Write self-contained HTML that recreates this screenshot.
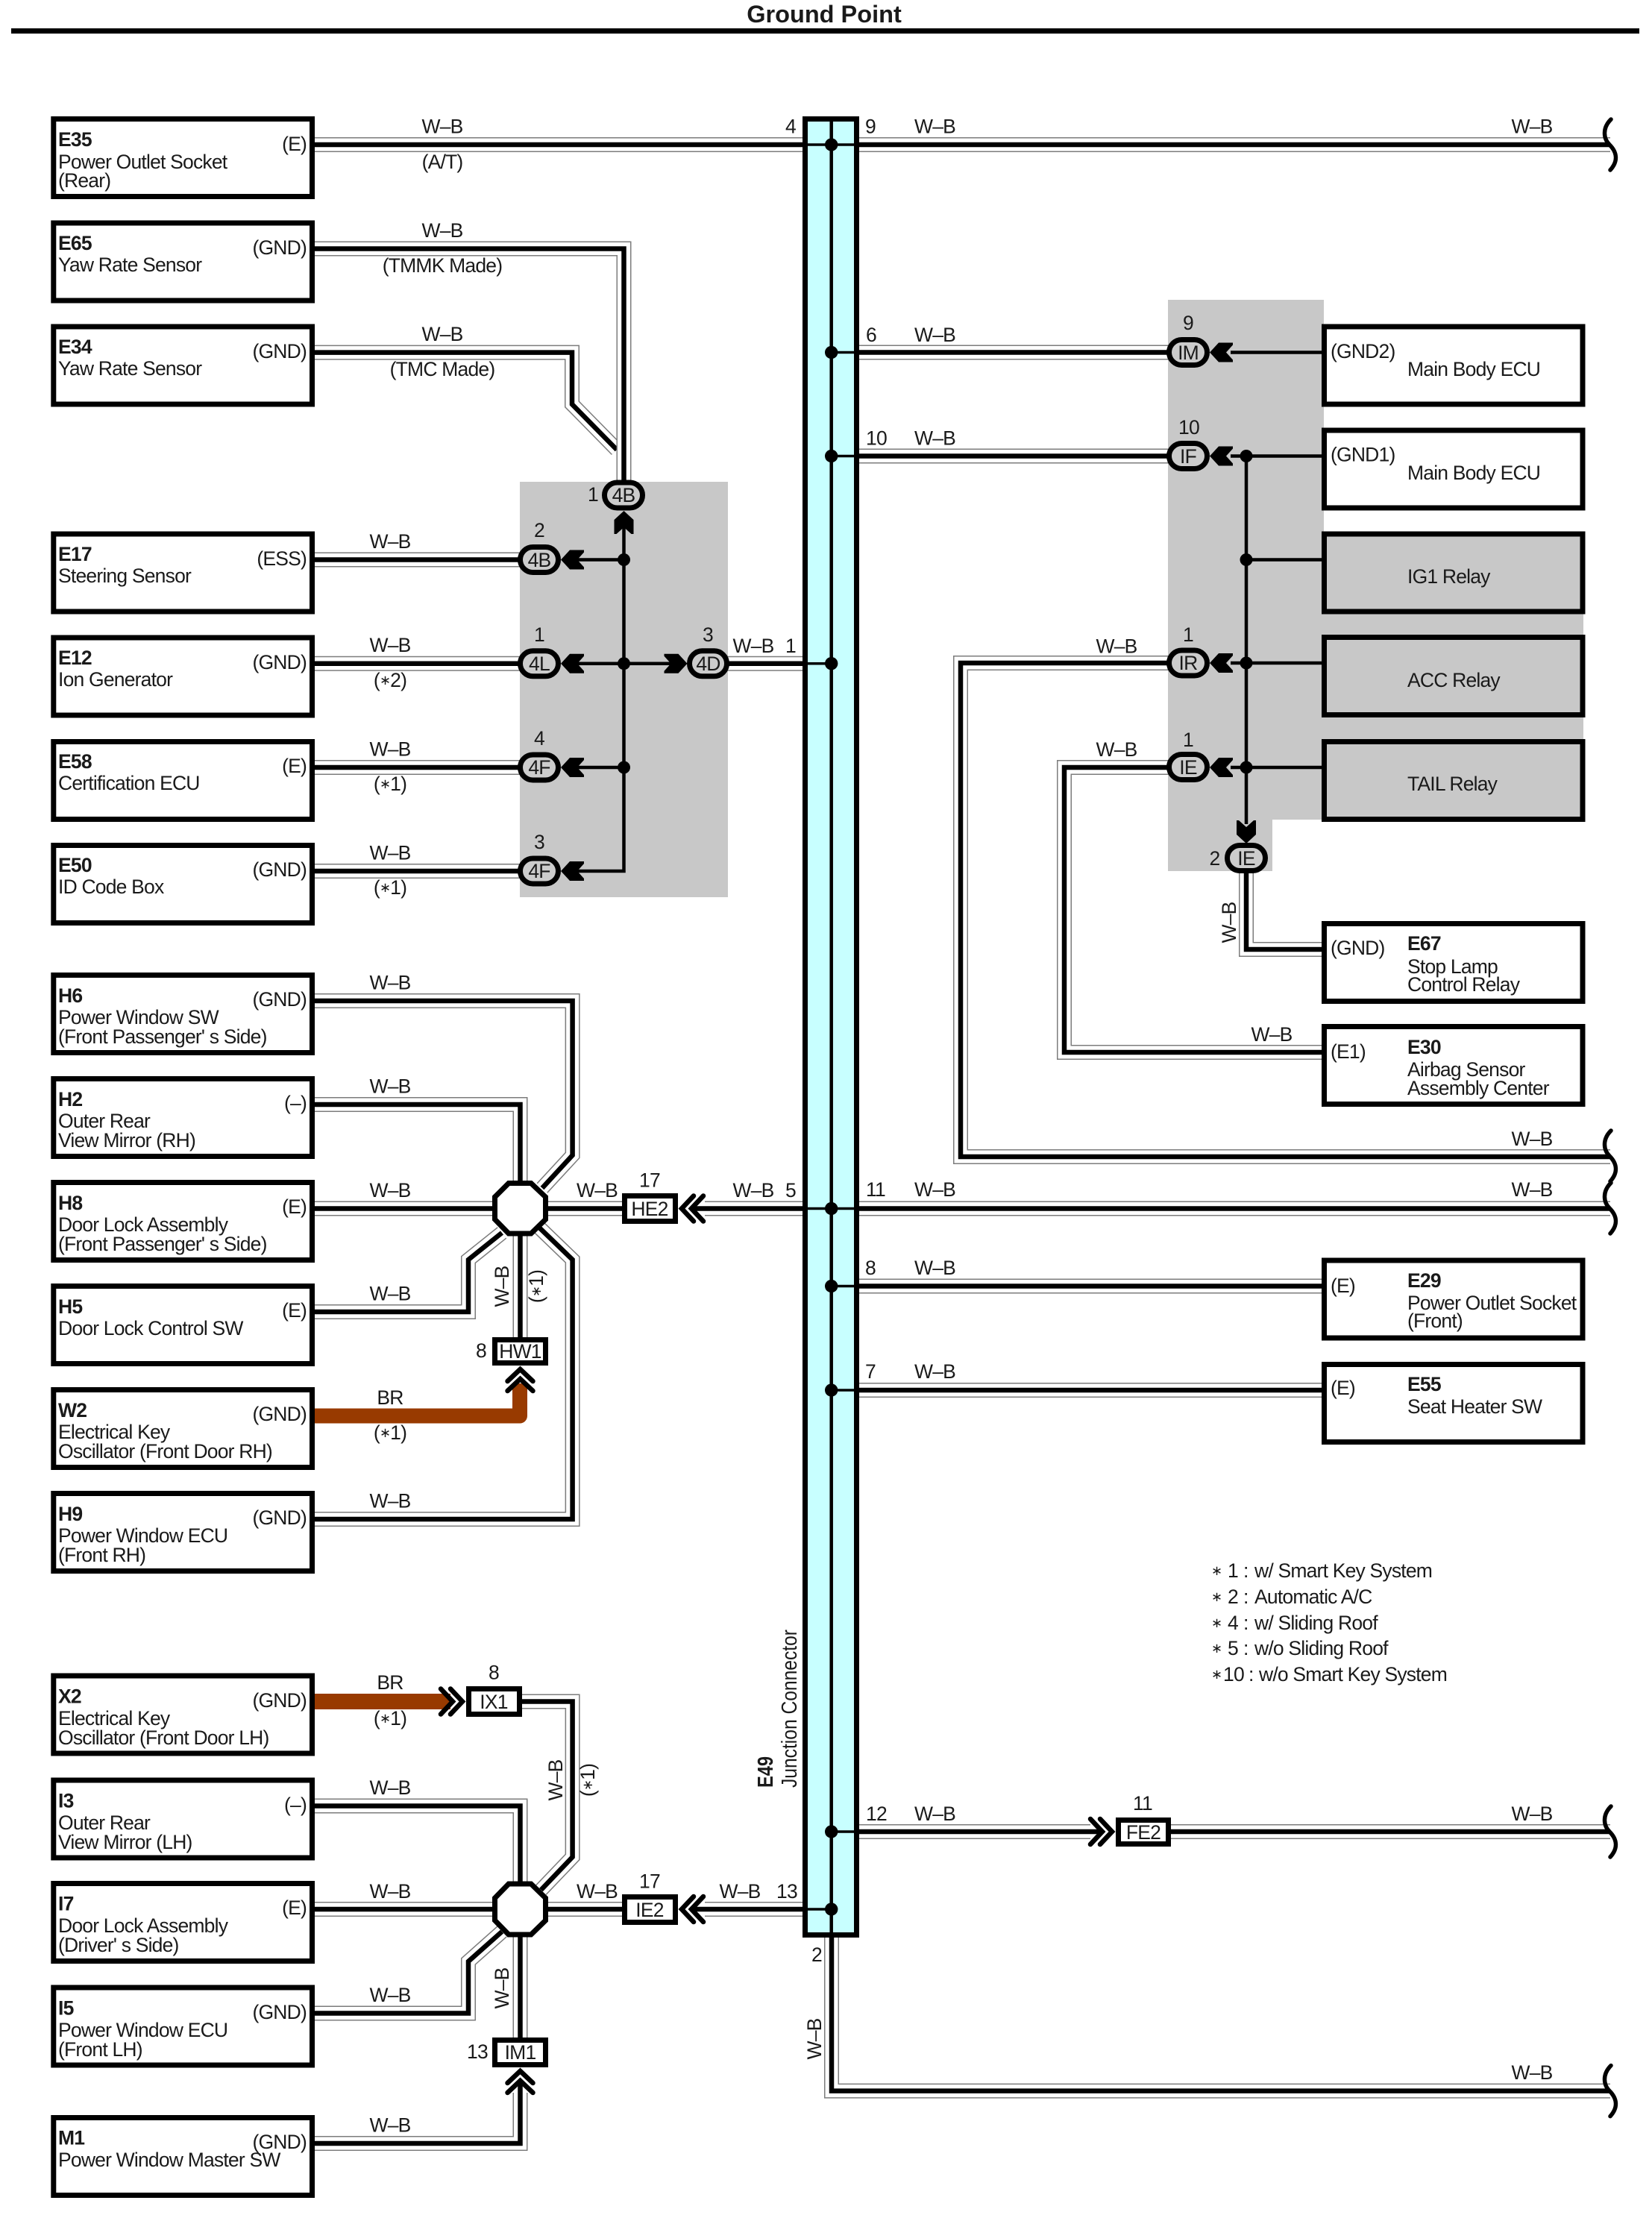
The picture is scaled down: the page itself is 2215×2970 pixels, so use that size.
<!DOCTYPE html>
<html><head><meta charset="utf-8"><title>Ground Point</title>
<style>
html,body{margin:0;padding:0;background:#fff}
svg{display:block}
text{font-family:"Liberation Sans","DejaVu Sans",sans-serif;font-size:26.5px;letter-spacing:-.8px;fill:#1a1a1a}
.bd{font-weight:bold}
.e{text-anchor:end}
.m{text-anchor:middle}
.s{font-size:18px}
.wg path,.wg use{fill:none;stroke:#7c7c7c;stroke-width:20;stroke-linejoin:miter}
.ww path,.ww use{fill:none;stroke:#fff;stroke-width:17;stroke-linejoin:miter}
.wb path,.wb use{fill:none;stroke:#000;stroke-width:6.5;stroke-linejoin:miter}
.t path{fill:none;stroke:#000;stroke-width:4.5}
.bx rect{fill:#fff;stroke:#000;stroke-width:7}
.rl rect{fill:#c8c8c8;stroke:#000;stroke-width:7}
.pl rect{fill:#ccc;stroke:#000;stroke-width:7}
.ch{fill:none;stroke:#000;stroke-width:6.5;stroke-linecap:round}
.br{fill:none;stroke:#000;stroke-width:5.5;stroke-linecap:round}
</style></head>
<body>
<svg xmlns="http://www.w3.org/2000/svg" width="2215" height="2970" viewBox="0 0 2215 2970">
<defs>
<path id="ar" d="M0 0L12-13H31V-10L22 0L31 10V13H12Z"/>
<path id="dc" d="M21-17L5 0L21 17M34-17L18 0L34 17"/>
<path id="brk" d="M2160-34C2148-22 2150-8 2158 0C2168 10 2170 22 2159 34"/>
<path id="w1" d="M421 472.6H767V542L827 603"/>
<path id="w2" d="M421 333.5H836.5V650"/>
<path id="w3" d="M421 194H2159M421 750.5H700M421 889.7H700M421 1029H700M421 1168H700M975 889.7H1077M1152 472.5H1570M1152 611.5H1570M1570 889H1288V1551H2159M1570 1029H1427V1411H1775M1671 1165V1273H1775M1152 1620.5H2159M945 1620.5H1077M421 1620.5H665M1152 1724.5H1775M1152 1864H1775M421 1342H767.6V1549L727 1593M421 1481H697.5V1590M421 1759H628V1689L673 1653M421 2037H767.6V1689L723 1646M697.5 1655V1795M700 2281.5H767.6V2490L725.5 2534M421 2421.5H697.5V2530M421 2560H665M735 2560H834M945 2560H1077M421 2699.5H628V2630L673 2590M697.5 2594V2734M421 2874H697.5V2806M1152 2456H1462M1570 2456H2159M1115 2598V2803.6H2159M735 1620.5H834"/>
</defs>

<!-- title -->
<text class="bd m" x="1105" y="30" style="font-size:32.5px;letter-spacing:0">Ground Point</text>
<rect x="15" y="38" width="2183" height="7" fill="#000"/>

<!-- grey panels -->
<rect x="697" y="646" width="279" height="557" fill="#c8c8c8"/>
<path d="M1566 402H1775V713H2123V1099H1706V1168H1566Z" fill="#c8c8c8"/>

<!-- wires -->
<g class="wg"><use href="#w1"/></g><g class="ww"><use href="#w1"/></g><g class="wb"><use href="#w1"/></g>
<g class="wg"><use href="#w2"/></g><g class="ww"><use href="#w2"/></g><g class="wb"><use href="#w2"/></g>
<g class="wg"><use href="#w3"/></g><g class="ww"><use href="#w3"/></g>
<g class="wb"><use href="#w3"/>
<path d="M945 1620.5H927M945 2560H927M1462 2456H1478M697.5 2806V2790"/></g>

<!-- junction bar -->
<rect x="1079.5" y="159.5" width="69" height="2435" fill="#c8ffff" stroke="#000" stroke-width="7"/>
<path d="M1083 194H1145M1083 889.7H1115M1083 1620.5H1145M1083 2560H1115M1115 2456H1145M1115 1724.5H1145M1115 1864H1145M1115 472.5H1145M1115 611.5H1145" stroke="#000" stroke-width="3.5" fill="none"/>
<path d="M1114.7 160V2804" stroke="#000" stroke-width="4.5" fill="none"/>
<g fill="#000">
<circle cx="1114.7" cy="194" r="8.7"/><circle cx="1114.7" cy="472.5" r="8.7"/><circle cx="1114.7" cy="611.5" r="8.7"/><circle cx="1114.7" cy="889.7" r="8.7"/><circle cx="1114.7" cy="1620.5" r="8.7"/><circle cx="1114.7" cy="1724.5" r="8.7"/><circle cx="1114.7" cy="1864" r="8.7"/><circle cx="1114.7" cy="2456" r="8.7"/><circle cx="1114.7" cy="2560" r="8.7"/>
</g>

<!-- thin internal lines -->
<g class="t">
<path d="M836.5 700V1168H760M760 750.5H836.5M760 889.7H900M760 1029H836.5"/>
<path d="M1650 472.5H1775M1650 611.5H1775M1671 611.5V1105M1671 750.5H1775M1650 889H1775M1650 1029H1775"/>
</g>
<g fill="#000">
<circle cx="836.5" cy="750.5" r="8.5"/><circle cx="836.5" cy="889.7" r="8.5"/><circle cx="836.5" cy="1029" r="8.5"/>
<circle cx="1671" cy="611.5" r="8.5"/><circle cx="1671" cy="750.5" r="8.5"/><circle cx="1671" cy="889" r="8.5"/><circle cx="1671" cy="1029" r="8.5"/>
<use href="#ar" transform="translate(836.5 685) rotate(90)"/>
<use href="#ar" x="752" y="750.5"/>
<use href="#ar" x="752" y="889.7"/>
<use href="#ar" x="752" y="1029"/>
<use href="#ar" x="752" y="1168"/>
<use href="#ar" transform="translate(921.5 889.7) rotate(180)"/>
<use href="#ar" x="1622" y="472.5"/>
<use href="#ar" x="1622" y="611.5"/>
<use href="#ar" x="1622" y="889"/>
<use href="#ar" x="1622" y="1029"/>
<use href="#ar" transform="translate(1671 1131) rotate(-90)"/>
</g>

<!-- brown wires -->
<path d="M421 1898.5H697V1855" fill="none" stroke="#983a00" stroke-width="20" stroke-linejoin="round"/>
<path d="M421 2281.5H604" fill="none" stroke="#983a00" stroke-width="21"/>

<!-- double chevrons -->
<use class="ch" href="#dc" transform="translate(909 1620.5)"/>
<use class="ch" href="#dc" transform="translate(909 2560)"/>
<use class="ch" href="#dc" transform="translate(697.5 1831) rotate(90)"/>
<use class="ch" href="#dc" transform="translate(697.5 2772) rotate(90)"/>
<use class="ch" href="#dc" transform="translate(625 2281.5) rotate(180)"/>
<use class="ch" href="#dc" transform="translate(1496 2456) rotate(180)"/>

<!-- octagons -->
<polygon points="682,1586.5 712,1586.5 731.5,1605 731.5,1635 712,1654 682,1654 663.5,1635 663.5,1605" fill="#fff" stroke="#000" stroke-width="7"/>
<polygon points="682,2526 712,2526 731.5,2545 731.5,2575 712,2594 682,2594 663.5,2575 663.5,2545" fill="#fff" stroke="#000" stroke-width="7"/>

<!-- break marks -->
<g class="br">
<use href="#brk" y="194"/><use href="#brk" y="1550"/><use href="#brk" y="1620"/><use href="#brk" y="2456"/><use href="#brk" y="2803.6"/>
</g>

<!-- small connector boxes -->
<g class="bx">
<rect x="837.5" y="1603.5" width="68" height="34"/>
<rect x="663.5" y="1796.5" width="68" height="31"/>
<rect x="837.5" y="2543.5" width="68" height="34"/>
<rect x="628.5" y="2264.5" width="68" height="34"/>
<rect x="663.5" y="2735.5" width="68" height="33"/>
<rect x="1499.5" y="2440.5" width="67" height="32"/>
</g>

<!-- pills -->
<g class="pl">
<rect x="810.5" y="647" width="51" height="34" rx="17"/>
<rect x="697.5" y="733.5" width="51" height="34" rx="17"/>
<rect x="697.5" y="872.7" width="51" height="34" rx="17"/>
<rect x="697.5" y="1012" width="51" height="34" rx="17"/>
<rect x="697.5" y="1151" width="51" height="34" rx="17"/>
<rect x="924.5" y="872.7" width="50" height="34" rx="17"/>
<rect x="1567.5" y="455.5" width="51" height="34" rx="17"/>
<rect x="1567.5" y="594.5" width="51" height="34" rx="17"/>
<rect x="1567.5" y="872" width="51" height="34" rx="17"/>
<rect x="1567.5" y="1011.5" width="51" height="34" rx="17"/>
<rect x="1645.5" y="1133.5" width="51" height="34" rx="17"/>
</g>

<!-- device boxes: left -->
<g class="bx">
<rect x="71.8" y="159.5" width="346.7" height="104"/>
<rect x="71.8" y="299" width="346.7" height="104"/>
<rect x="71.8" y="438" width="346.7" height="104"/>
<rect x="71.8" y="716" width="346.7" height="104"/>
<rect x="71.8" y="855" width="346.7" height="104"/>
<rect x="71.8" y="994.5" width="346.7" height="104"/>
<rect x="71.8" y="1133.5" width="346.7" height="104"/>
<rect x="71.8" y="1307.5" width="346.7" height="104"/>
<rect x="71.8" y="1446.5" width="346.7" height="104"/>
<rect x="71.8" y="1585.5" width="346.7" height="104"/>
<rect x="71.8" y="1724.5" width="346.7" height="104"/>
<rect x="71.8" y="1863.5" width="346.7" height="104"/>
<rect x="71.8" y="2002.5" width="346.7" height="104"/>
<rect x="71.8" y="2247" width="346.7" height="104"/>
<rect x="71.8" y="2387" width="346.7" height="104"/>
<rect x="71.8" y="2525.5" width="346.7" height="104"/>
<rect x="71.8" y="2665" width="346.7" height="104"/>
<rect x="71.8" y="2839.5" width="346.7" height="104"/>
<!-- right -->
<rect x="1775.5" y="438" width="346.5" height="104"/>
<rect x="1775.5" y="577" width="346.5" height="104"/>
<rect x="1775.5" y="1238.5" width="346.5" height="104"/>
<rect x="1775.5" y="1376.5" width="346.5" height="104"/>
<rect x="1775.5" y="1690" width="346.5" height="104"/>
<rect x="1775.5" y="1829.5" width="346.5" height="104"/>
</g>
<g class="rl">
<rect x="1775.5" y="716" width="346.5" height="104"/>
<rect x="1775.5" y="854.5" width="346.5" height="104"/>
<rect x="1775.5" y="994.5" width="346.5" height="104"/>
</g>

<!-- device text: left -->
<text class="bd" x="78" y="196">E35</text><text x="78" y="226">Power Outlet Socket</text><text x="78" y="251">(Rear)</text><text class="e" x="411" y="202">(E)</text>
<text class="bd" x="78" y="335">E65</text><text x="78" y="364">Yaw Rate Sensor</text><text class="e" x="411" y="341">(GND)</text>
<text class="bd" x="78" y="474">E34</text><text x="78" y="503">Yaw Rate Sensor</text><text class="e" x="411" y="480">(GND)</text>
<text class="bd" x="78" y="752">E17</text><text x="78" y="781">Steering Sensor</text><text class="e" x="411" y="758">(ESS)</text>
<text class="bd" x="78" y="891">E12</text><text x="78" y="920">Ion Generator</text><text class="e" x="411" y="897">(GND)</text>
<text class="bd" x="78" y="1030">E58</text><text x="78" y="1059">Certification ECU</text><text class="e" x="411" y="1036">(E)</text>
<text class="bd" x="78" y="1169">E50</text><text x="78" y="1198">ID Code Box</text><text class="e" x="411" y="1175">(GND)</text>
<text class="bd" x="78" y="1344">H6</text><text x="78" y="1373">Power Window SW</text><text x="78" y="1399">(Front Passenger'  s Side)</text><text class="e" x="411" y="1349">(GND)</text>
<text class="bd" x="78" y="1483">H2</text><text x="78" y="1512">Outer Rear</text><text x="78" y="1538">View Mirror (RH)</text><text class="e" x="411" y="1488">(–)</text>
<text class="bd" x="78" y="1622">H8</text><text x="78" y="1651">Door Lock Assembly</text><text x="78" y="1677">(Front Passenger'  s Side)</text><text class="e" x="411" y="1627">(E)</text>
<text class="bd" x="78" y="1761">H5</text><text x="78" y="1790">Door Lock Control SW</text><text class="e" x="411" y="1766">(E)</text>
<text class="bd" x="78" y="1900">W2</text><text x="78" y="1929">Electrical Key</text><text x="78" y="1955">Oscillator (Front Door RH)</text><text class="e" x="411" y="1905">(GND)</text>
<text class="bd" x="78" y="2039">H9</text><text x="78" y="2068">Power Window ECU</text><text x="78" y="2094">(Front RH)</text><text class="e" x="411" y="2044">(GND)</text>
<text class="bd" x="78" y="2283.5">X2</text><text x="78" y="2313">Electrical Key</text><text x="78" y="2339">Oscillator (Front Door LH)</text><text class="e" x="411" y="2289">(GND)</text>
<text class="bd" x="78" y="2423.5">I3</text><text x="78" y="2453">Outer Rear</text><text x="78" y="2479">View Mirror (LH)</text><text class="e" x="411" y="2429">(–)</text>
<text class="bd" x="78" y="2561.5">I7</text><text x="78" y="2591">Door Lock Assembly</text><text x="78" y="2617">(Driver'  s Side)</text><text class="e" x="411" y="2567">(E)</text>
<text class="bd" x="78" y="2701.5">I5</text><text x="78" y="2731">Power Window ECU</text><text x="78" y="2757">(Front LH)</text><text class="e" x="411" y="2707">(GND)</text>
<text class="bd" x="78" y="2875.5">M1</text><text x="78" y="2905">Power Window Master SW</text><text class="e" x="411" y="2881">(GND)</text>

<!-- device text: right -->
<text x="1784" y="480">(GND2)</text><text x="1887" y="504">Main Body ECU</text>
<text x="1784" y="618.5">(GND1)</text><text x="1887" y="643">Main Body ECU</text>
<text x="1887" y="782">IG1 Relay</text>
<text x="1887" y="921">ACC Relay</text>
<text x="1887" y="1060">TAIL Relay</text>
<text x="1784" y="1280">(GND)</text><text class="bd" x="1887" y="1274">E67</text><text x="1887" y="1305">Stop Lamp</text><text x="1887" y="1329">Control Relay</text>
<text x="1784" y="1419">(E1)</text><text class="bd" x="1887" y="1413">E30</text><text x="1887" y="1443">Airbag Sensor</text><text x="1887" y="1468">Assembly Center</text>
<text x="1784" y="1733">(E)</text><text class="bd" x="1887" y="1726">E29</text><text x="1887" y="1756">Power Outlet Socket</text><text x="1887" y="1780">(Front)</text>
<text x="1784" y="1870">(E)</text><text class="bd" x="1887" y="1865">E55</text><text x="1887" y="1895">Seat Heater SW</text>

<!-- connector codes -->
<g>
<text class="m" x="836" y="673">4B</text>
<text class="m" x="723" y="760">4B</text>
<text class="m" x="723" y="899">4L</text>
<text class="m" x="723" y="1038">4F</text>
<text class="m" x="723" y="1177">4F</text>
<text class="m" x="949.5" y="899">4D</text>
<text class="m" x="1593" y="482">IM</text>
<text class="m" x="1593" y="621">IF</text>
<text class="m" x="1593" y="898">IR</text>
<text class="m" x="1593" y="1038">IE</text>
<text class="m" x="1671" y="1160">IE</text>
<text class="m" x="871" y="1630">HE2</text>
<text class="m" x="697.5" y="1821">HW1</text>
<text class="m" x="871" y="2570">IE2</text>
<text class="m" x="662" y="2291">IX1</text>
<text class="m" x="697.5" y="2761">IM1</text>
<text class="m" x="1533" y="2466">FE2</text>
</g>

<!-- wire labels -->
<text class="m" x="593" y="178.5">W–B</text><text class="m" x="593" y="226">(A/T)</text>
<text class="m" x="593" y="318">W–B</text><text class="m" x="593" y="365">(TMMK Made)</text>
<text class="m" x="593" y="457">W–B</text><text class="m" x="593" y="504">(TMC Made)</text>
<text class="m" x="523" y="735">W–B</text>
<text class="m" x="523" y="874">W–B</text><text class="m" x="523" y="921">(<tspan class="s" dy="-3">∗</tspan><tspan dy="3">2</tspan>)</text>
<text class="m" x="523" y="1013.5">W–B</text><text class="m" x="523" y="1060">(<tspan class="s" dy="-3">∗</tspan><tspan dy="3">1</tspan>)</text>
<text class="m" x="523" y="1152.5">W–B</text><text class="m" x="523" y="1199">(<tspan class="s" dy="-3">∗</tspan><tspan dy="3">1</tspan>)</text>
<text class="m" x="523" y="1326.5">W–B</text>
<text class="m" x="523" y="1465.5">W–B</text>
<text class="m" x="523" y="1605">W–B</text>
<text class="m" x="523" y="1743.5">W–B</text>
<text class="m" x="523" y="1883">BR</text><text class="m" x="523" y="1930">(<tspan class="s" dy="-3">∗</tspan><tspan dy="3">1</tspan>)</text>
<text class="m" x="523" y="2021.5">W–B</text>
<text class="m" x="523" y="2265">BR</text><text class="m" x="523" y="2313">(<tspan class="s" dy="-3">∗</tspan><tspan dy="3">1</tspan>)</text>
<text class="m" x="523" y="2406">W–B</text>
<text class="m" x="523" y="2545">W–B</text>
<text class="m" x="523" y="2684">W–B</text>
<text class="m" x="523" y="2858.5">W–B</text>
<text class="m" x="800.5" y="1605">W–B</text>
<text class="m" x="800.5" y="2545">W–B</text>
<text class="m" x="1010" y="875">W–B</text>
<text class="m" x="1010" y="1605">W–B</text>
<text class="m" x="992" y="2545">W–B</text>
<text class="m" x="1253.5" y="178.5">W–B</text>
<text class="m" x="1253.5" y="458">W–B</text>
<text class="m" x="1253.5" y="596.5">W–B</text>
<text class="m" x="1253.5" y="1604">W–B</text>
<text class="m" x="1253.5" y="1709">W–B</text>
<text class="m" x="1253.5" y="1848">W–B</text>
<text class="m" x="1253.5" y="2441">W–B</text>
<text class="m" x="1497" y="875.5">W–B</text>
<text class="m" x="1497" y="1014">W–B</text>
<text class="m" x="1705" y="1396">W–B</text>
<text class="m" x="2054" y="178.5">W–B</text>
<text class="m" x="2054" y="1536">W–B</text>
<text class="m" x="2054" y="1604">W–B</text>
<text class="m" x="2054" y="2441">W–B</text>
<text class="m" x="2054" y="2788">W–B</text>

<!-- rotated labels -->
<text class="m" transform="translate(682 1725) rotate(-90)">W–B</text>
<text class="m" transform="translate(728 1725) rotate(-90)">(<tspan class="s" dy="-3">∗</tspan><tspan dy="3">1</tspan>)</text>
<text class="m" transform="translate(682 2666) rotate(-90)">W–B</text>
<text class="m" transform="translate(754 2387) rotate(-90)">W–B</text>
<text class="m" transform="translate(797 2387) rotate(-90)">(<tspan class="s" dy="-3">∗</tspan><tspan dy="3">1</tspan>)</text>
<text class="m" transform="translate(1657 1237) rotate(-90)">W–B</text>
<text class="m" transform="translate(1101 2734) rotate(-90)">W–B</text>
<text class="bd" transform="translate(1036 2397) rotate(-90)" textLength="42" lengthAdjust="spacingAndGlyphs" style="font-size:29px;letter-spacing:0">E49</text>
<text transform="translate(1068 2397) rotate(-90)" textLength="212" lengthAdjust="spacingAndGlyphs" style="font-size:29px;letter-spacing:0">Junction Connector</text>

<!-- pin numbers -->
<text class="m" x="1060" y="178.5">4</text>
<text class="m" x="1167" y="178.5">9</text>
<text class="m" x="1168" y="458">6</text>
<text class="m" x="1175" y="596.5">10</text>
<text class="m" x="1060" y="875">1</text>
<text class="m" x="1060" y="1605">5</text>
<text class="m" x="1174" y="1604">11</text>
<text class="m" x="1167" y="1709">8</text>
<text class="m" x="1167" y="1848">7</text>
<text class="m" x="1175" y="2441">12</text>
<text class="m" x="1055" y="2545">13</text>
<text class="m" x="1095" y="2630">2</text>
<text class="m" x="795" y="672">1</text>
<text class="m" x="723" y="720">2</text>
<text class="m" x="723" y="860">1</text>
<text class="m" x="723" y="999">4</text>
<text class="m" x="723" y="1138">3</text>
<text class="m" x="949" y="860">3</text>
<text class="m" x="1593" y="442">9</text>
<text class="m" x="1594" y="582">10</text>
<text class="m" x="1593" y="860">1</text>
<text class="m" x="1593" y="1001">1</text>
<text class="m" x="1628.5" y="1160">2</text>
<text class="m" x="871" y="1591.5">17</text>
<text class="m" x="645" y="1820">8</text>
<text class="m" x="662" y="2251.5">8</text>
<text class="m" x="871" y="2531.5">17</text>
<text class="m" x="640" y="2760">13</text>
<text class="m" x="1532" y="2427">11</text>

<!-- legend -->
<text class="m s" x="1631" y="2112">∗</text><text x="1646" y="2115">1</text><text x="1667" y="2115">:</text><text x="1682" y="2115">w/ Smart Key System</text>
<text class="m s" x="1631" y="2147">∗</text><text x="1646" y="2150">2</text><text x="1667" y="2150">:</text><text x="1682" y="2150">Automatic A/C</text>
<text class="m s" x="1631" y="2182">∗</text><text x="1646" y="2185">4</text><text x="1667" y="2185">:</text><text x="1682" y="2185">w/ Sliding Roof</text>
<text class="m s" x="1631" y="2216">∗</text><text x="1646" y="2219">5</text><text x="1667" y="2219">:</text><text x="1682" y="2219">w/o Sliding Roof</text>
<text class="m s" x="1631" y="2251">∗</text><text x="1640" y="2254">10</text><text x="1674" y="2254">:</text><text x="1688" y="2254">w/o Smart Key System</text>
</svg>
</body></html>
